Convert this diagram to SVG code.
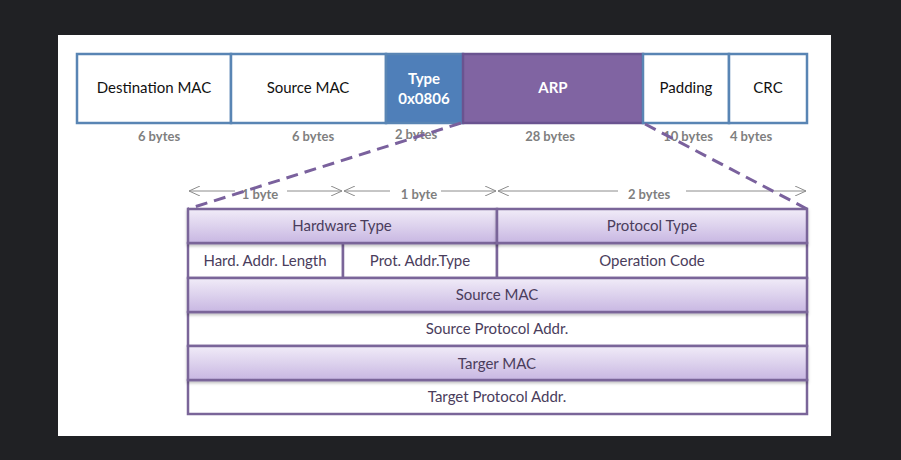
<svg xmlns="http://www.w3.org/2000/svg" width="901" height="460" viewBox="0 0 901 460">
<defs>
<linearGradient id="lav" x1="0" y1="0" x2="0" y2="1">
<stop offset="0" stop-color="#f1ecf8"/>
<stop offset="1" stop-color="#c8b7e2"/>
</linearGradient>
<marker id="ah" viewBox="0 0 12 10" refX="11" refY="5" markerWidth="12" markerHeight="10" markerUnits="userSpaceOnUse" orient="auto-start-reverse">
<path d="M0,0 L11,5 L0,10" fill="none" stroke="#8c8c8c" stroke-width="1"/>
</marker>
<filter id="sh" x="-5%" y="-20%" width="110%" height="150%">
<feDropShadow dx="0" dy="2" stdDeviation="1.5" flood-color="#000" flood-opacity="0.25"/>
</filter>
</defs>
<style>
.f{stroke:#5985b4;stroke-width:2.5}
.t{font-family:Lato,"Open Sans",sans-serif;font-size:15px;fill:#111;text-anchor:middle}
.tw{font-family:Lato,"Open Sans",sans-serif;font-size:15px;font-weight:bold;fill:#fff;text-anchor:middle}
.b{font-family:Lato,"Open Sans",sans-serif;font-size:13px;font-weight:bold;fill:#7f7f7f;text-anchor:middle}
.r{stroke:#7a6599;stroke-width:2.5}
.a{font-family:Lato,"Open Sans",sans-serif;font-size:15px;fill:#4a3d5c;text-anchor:middle}
.dim{stroke:#8c8c8c;stroke-width:1;marker-end:url(#ah);marker-start:url(#ah)}
.dash{stroke:#7a619d;stroke-width:3;stroke-dasharray:12 7;fill:none}
</style>
<rect x="0" y="0" width="901" height="460" fill="#202124"/>
<rect x="58" y="35" width="773" height="401" fill="#ffffff"/>

<g id="frame">
<g id="dst"><rect class="f" x="77" y="54" width="154" height="69" fill="#fff"/><text class="t" x="154" y="93">Destination MAC</text></g>
<g id="src"><rect class="f" x="231" y="54" width="155" height="69" fill="#fff"/><text class="t" x="308" y="93">Source MAC</text></g>
<g id="type"><rect class="f" x="386" y="54" width="77" height="69" fill="#4f7fb9"/><text class="tw" x="424" y="84">Type</text><text class="tw" x="424" y="104">0x0806</text></g>
<g id="arp"><rect x="463" y="54" width="180" height="69" fill="#8064a2" stroke="#6a5390" stroke-width="2.5"/><text class="tw" x="553" y="93">ARP</text></g>
<g id="pad"><rect class="f" x="643" y="54" width="86" height="69" fill="#fff"/><text class="t" x="686" y="93">Padding</text></g>
<g id="crc"><rect class="f" x="729" y="54" width="78" height="69" fill="#fff"/><text class="t" x="768" y="93">CRC</text></g>
</g>

<g id="sizes">
<text class="b" x="159" y="141">6 bytes</text>
<text class="b" x="313" y="141">6 bytes</text>
<text class="b" x="416" y="139">2 bytes</text>
<text class="b" x="550" y="141">28 bytes</text>
<text class="b" x="688" y="141">10 bytes</text>
<text class="b" x="751" y="141">4 bytes</text>
</g>

<g id="widths">
<line class="dim" x1="189" y1="191" x2="235" y2="191" style="marker-end:none"/>
<line class="dim" x1="287" y1="191" x2="342" y2="191" style="marker-start:none"/>
<text class="b" x="260" y="199">1 byte</text>
<line class="dim" x1="344" y1="191" x2="390" y2="191" style="marker-end:none"/>
<line class="dim" x1="441" y1="191" x2="496" y2="191" style="marker-start:none"/>
<text class="b" x="419" y="199">1 byte</text>
<line class="dim" x1="498" y1="191" x2="618" y2="191" style="marker-end:none"/>
<line class="dim" x1="686" y1="191" x2="806" y2="191" style="marker-start:none"/>
<text class="b" x="649" y="199">2 bytes</text>
</g>

<g id="connectors">
<line class="dash" x1="461" y1="123" x2="188" y2="209"/>
<line class="dash" x1="645" y1="124" x2="807" y2="209"/>
</g>

<g id="arp-table">
<g id="r6"><rect class="r" x="188" y="380" width="619" height="34" fill="#fff"/><text class="a" x="497" y="402">Target Protocol Addr.</text></g>
<g id="r4"><rect class="r" x="188" y="312" width="619" height="34" fill="#fff"/><text class="a" x="497" y="334">Source Protocol Addr.</text></g>
<g id="r2">
<rect class="r" x="188" y="243" width="155" height="35" fill="#fff"/><text class="a" x="265" y="266">Hard. Addr. Length</text>
<rect class="r" x="343" y="243" width="154" height="35" fill="#fff"/><text class="a" x="420" y="266">Prot. Addr.Type</text>
<rect class="r" x="497" y="243" width="310" height="35" fill="#fff"/><text class="a" x="652" y="266">Operation Code</text>
</g>
<g id="r5"><rect class="r" x="188" y="346" width="619" height="34" fill="url(#lav)" filter="url(#sh)"/><text class="a" x="497" y="369">Targer MAC</text></g>
<g id="r3"><rect class="r" x="188" y="278" width="619" height="34" fill="url(#lav)" filter="url(#sh)"/><text class="a" x="497" y="300">Source MAC</text></g>
<g id="r1">
<rect class="r" x="188" y="209" width="309" height="34" fill="url(#lav)" filter="url(#sh)"/><text class="a" x="342" y="231">Hardware Type</text>
<rect class="r" x="497" y="209" width="310" height="34" fill="url(#lav)" filter="url(#sh)"/><text class="a" x="652" y="231">Protocol Type</text>
</g>
</g>
</svg>
